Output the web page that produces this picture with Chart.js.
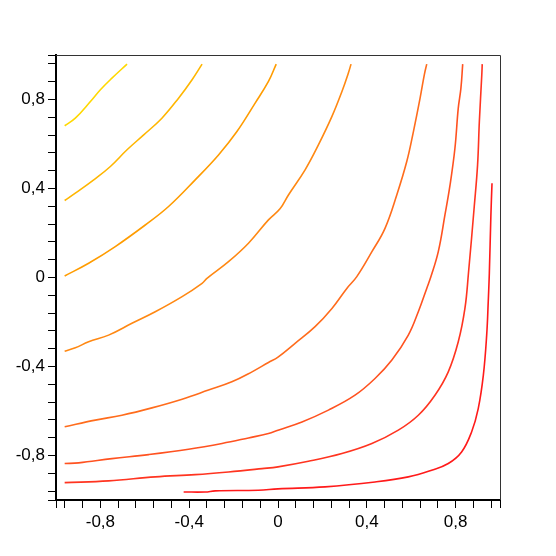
<!DOCTYPE html>
<html>
<head>
<meta charset="utf-8">
<script src="https://cdn.jsdelivr.net/npm/chart.js@4/dist/chart.umd.min.js"></script>
<style>
  html, body { margin: 0; padding: 0; background: #fff; }
  #wrap { width: 556px; height: 556px; }
</style>
</head>
<body>
<div id="wrap"><canvas id="contourChart" width="556" height="556"></canvas></div>
<script>
// contour lines, [x, y] pairs, yellow (high) to red (low)
const level1 = [[-0.961, 0.682], [-0.913, 0.716], [-0.845, 0.791], [-0.800, 0.844], [-0.748, 0.896], [-0.680, 0.959]];
const level2 = [[-0.961, 0.346], [-0.913, 0.379], [-0.830, 0.439], [-0.755, 0.499], [-0.680, 0.574], [-0.605, 0.641],
  [-0.523, 0.716], [-0.448, 0.806], [-0.387, 0.889], [-0.342, 0.959]];
const level3 = [[-0.961, 0.007], [-0.853, 0.064], [-0.733, 0.139], [-0.598, 0.236], [-0.493, 0.319], [-0.373, 0.439],
  [-0.268, 0.551], [-0.185, 0.656], [-0.103, 0.784], [-0.043, 0.881], [-0.008, 0.959]];
const level4 = [[-0.961, -0.331], [-0.913, -0.316], [-0.853, -0.289], [-0.763, -0.259], [-0.658, -0.206], [-0.553, -0.154],
  [-0.432, -0.086], [-0.342, -0.026], [-0.320, -0.004], [-0.223, 0.071], [-0.133, 0.154], [-0.043, 0.259],
  [0.010, 0.310], [0.047, 0.371], [0.122, 0.484], [0.182, 0.596], [0.243, 0.724], [0.288, 0.836], [0.317, 0.919], [0.329, 0.959]];
const level5 = [[-0.961, -0.671], [-0.823, -0.641], [-0.703, -0.619], [-0.568, -0.586], [-0.432, -0.547], [-0.313, -0.506],
  [-0.208, -0.469], [-0.117, -0.424], [-0.043, -0.382], [0.000, -0.358], [0.077, -0.296], [0.167, -0.221],
  [0.243, -0.139], [0.310, -0.049], [0.355, 0.004], [0.423, 0.116], [0.482, 0.221], [0.535, 0.371], [0.580, 0.521],
  [0.610, 0.656], [0.640, 0.806], [0.659, 0.911], [0.670, 0.959]];
const level6 = [[-0.961, -0.836], [-0.898, -0.833], [-0.748, -0.814], [-0.583, -0.796], [-0.403, -0.772], [-0.252, -0.746],
  [-0.133, -0.721], [-0.043, -0.701], [0.000, -0.686], [0.108, -0.649], [0.227, -0.596], [0.347, -0.529],
  [0.437, -0.454], [0.513, -0.371], [0.587, -0.259], [0.632, -0.154], [0.670, -0.049], [0.689, 0.004],
  [0.722, 0.116], [0.752, 0.281], [0.775, 0.416], [0.797, 0.581], [0.812, 0.761], [0.824, 0.851], [0.832, 0.959]];
const level7 = [[-0.961, -0.922], [-0.763, -0.914], [-0.553, -0.896], [-0.373, -0.886], [-0.223, -0.874], [-0.072, -0.859],
  [0.000, -0.851], [0.137, -0.826], [0.288, -0.791], [0.423, -0.746], [0.542, -0.686], [0.632, -0.619],
  [0.707, -0.529], [0.767, -0.424], [0.812, -0.289], [0.842, -0.139], [0.858, 0.020], [0.884, 0.319],
  [0.899, 0.506], [0.907, 0.701], [0.918, 0.911], [0.920, 0.959]];
const level8 = [[-0.425, -0.964], [-0.328, -0.964], [-0.283, -0.959], [-0.088, -0.956], [0.000, -0.950], [0.212, -0.941],
  [0.437, -0.919], [0.587, -0.896], [0.692, -0.866], [0.767, -0.836], [0.827, -0.784], [0.872, -0.694],
  [0.902, -0.589], [0.925, -0.439], [0.940, -0.259], [0.947, -0.109], [0.952, 0.020], [0.959, 0.281], [0.964, 0.424]];

const levels = [level1, level2, level3, level4, level5, level6, level7, level8];
const levelColors = ["#ffd800", "#ffb600", "#ff9c00", "#ff8812", "#ff6c1c", "#ff5220", "#ff3420", "#ff1a1a"];

const majorTicks = [-0.8, -0.4, 0, 0.4, 0.8];
const axisMin = -1;
const axisMax = 1;
const minorStep = 0.08;

function tickValues() {
  const vals = [axisMin];
  for (let k = -12; k <= 12; k++) vals.push(Math.round(k * minorStep * 100) / 100);
  vals.push(axisMax);
  return vals;
}

function tickLabel(value) {
  const hit = majorTicks.find((m) => Math.abs(m - value) < 1e-6);
  if (hit === undefined) return "";
  return String(hit).replace(".", ",");
}

const frameBox = {
  id: "frameBox",
  afterDraw(chart) {
    const { ctx, chartArea } = chart;
    ctx.save();
    ctx.strokeStyle = "#333";
    ctx.lineWidth = 1;
    ctx.beginPath();
    ctx.moveTo(chartArea.left, chartArea.top + 0.5);
    ctx.lineTo(chartArea.right + 0.5, chartArea.top + 0.5);
    ctx.lineTo(chartArea.right + 0.5, chartArea.bottom);
    ctx.stroke();
    ctx.restore();
  },
};

const axisFont = { family: "'Liberation Sans', Arial, sans-serif", size: 17 };

function axisOptions(isX) {
  return {
    type: "linear",
    position: isX ? "bottom" : "left",
    min: axisMin,
    max: axisMax,
    afterBuildTicks: (scale) => {
      scale.ticks = tickValues().map((v) => ({ value: v }));
    },
    afterFit: (scale) => {
      if (isX) scale.height = 56;
      else scale.width = 56;
    },
    ticks: {
      autoSkip: false,
      maxRotation: 0,
      color: "#000",
      font: axisFont,
      padding: isX ? 4 : 3,
      callback: (value) => tickLabel(value),
    },
    grid: {
      drawOnChartArea: false,
      drawTicks: true,
      tickLength: 8,
      color: "#000",
      lineWidth: 1,
    },
    border: { display: true, color: "#000", width: 2 },
  };
}

new Chart(document.getElementById("contourChart"), {
  type: "scatter",
  data: {
    datasets: levels.map((pts, i) => ({
      data: pts.map((p) => ({ x: p[0], y: p[1] })),
      showLine: true,
      borderColor: levelColors[i],
      borderWidth: 1.6,
      pointRadius: 0,
      tension: 0.4,
      fill: false,
    })),
  },
  options: {
    responsive: false,
    animation: false,
    layout: { padding: { top: 55, right: 56, left: 0, bottom: 0 } },
    plugins: { legend: { display: false }, tooltip: { enabled: false } },
    scales: {
      x: axisOptions(true),
      y: axisOptions(false),
    },
  },
  plugins: [frameBox],
});
</script>
</body>
</html>
